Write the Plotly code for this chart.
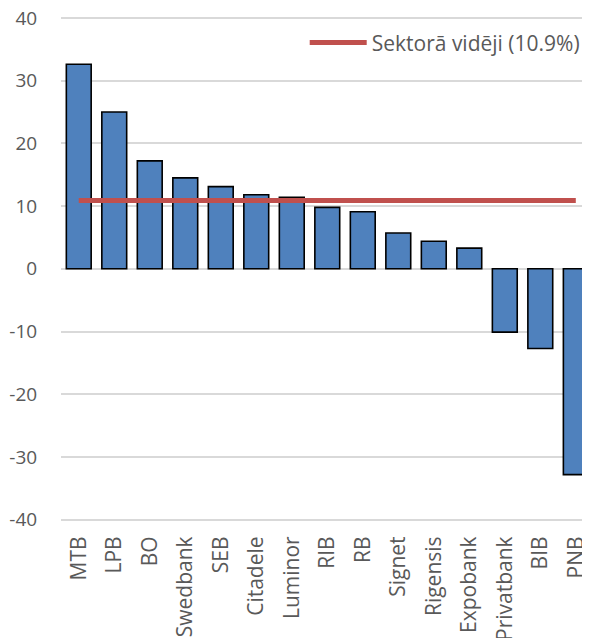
import plotly.graph_objects as go

banks = ["MTB", "LPB", "BO", "Swedbank", "SEB", "Citadele", "Luminor", "RIB", "RB",
         "Signet", "Rigensis", "Expobank", "Privatbank", "BIB", "PNB"]
values = [32.6, 25.0, 17.2, 14.5, 13.1, 11.8, 11.4, 9.8, 9.1, 5.7, 4.4, 3.3, -10.1, -12.7, -32.8]
sector_avg = 10.9
avg_label = "Sektorā vidēji (10.9%)"
y_ticks = [-40, -30, -20, -10, 0, 10, 20, 30, 40]
y_tick_text = [str(v) for v in y_ticks]

FONT = "Open Sans"
GREY = "#595959"

fig = go.Figure()
fig.add_trace(go.Bar(
    x=banks, y=values,
    marker=dict(color="#4f81bd", line=dict(color="#000000", width=1.6)),
    width=0.7, showlegend=False, hoverinfo="x+y",
))
fig.add_trace(go.Scatter(
    x=banks, y=[sector_avg] * len(banks),
    mode="lines", name=avg_label,
    line=dict(color="#c0504d", width=5),
))

# page body has an 8px margin, so figure is offset by 8px
fig.update_layout(
    width=582, height=630,
    margin=dict(l=53, r=0, t=8.4, b=116.7, autoexpand=False),
    paper_bgcolor="white", plot_bgcolor="white",
    font=dict(family=FONT, size=19, color=GREY),
    legend=dict(x=0.99, xanchor="right", y=0.947, yanchor="middle",
                bgcolor="rgba(0,0,0,0)", font=dict(family=FONT, size=21, color=GREY),
                itemwidth=57),
    bargap=0.3,
)
fig.update_xaxes(
    type="category", range=[-0.5, 14.4], automargin=False,
    tickangle=-90, ticks="outside", ticklen=6, tickcolor="rgba(0,0,0,0)",
    showgrid=False, showline=False,
    tickfont=dict(family=FONT, size=21, color=GREY),
)
fig.update_yaxes(
    range=[-40.2, 40.3], tickvals=y_ticks, ticktext=y_tick_text, automargin=False,
    ticklabeloverflow="allow",
    showgrid=True, gridcolor="#d9d9d9", gridwidth=1.5,
    zeroline=True, zerolinecolor="#d9d9d9", zerolinewidth=1.5,
    ticks="outside", ticklen=19, tickcolor="rgba(0,0,0,0)",
    tickfont=dict(family=FONT, size=19, color=GREY),
)

fig.write_html("out.html")
